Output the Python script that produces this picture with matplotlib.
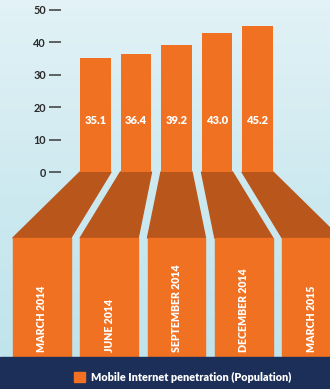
import numpy as np
import matplotlib.pyplot as plt
from matplotlib.patches import Polygon, Rectangle
from matplotlib.colors import LinearSegmentedColormap

periods = ["MARCH 2014", "JUNE 2014", "SEPTEMBER 2014", "DECEMBER 2014", "MARCH 2015"]
penetration = [35.1, 36.4, 39.2, 43.0, 45.2]
yticks = [0, 10, 20, 30, 40, 50]
legend_label = "Mobile Internet penetration (Population)"

orange = "#f07122"
dark_orange = "#b9561b"
navy = "#1b2f58"

plt.rcParams['font.family'] = ['Lato', 'DejaVu Sans']

fig = plt.figure(figsize=(3.3, 3.89), dpi=100)

# light blue background
bg = fig.add_axes([0, 0, 1, 1], zorder=-1)
grad = np.linspace(0, 1, 256).reshape(-1, 1)
cm = LinearSegmentedColormap.from_list("bg", ["#e2f2f6", "#cde9f0", "#bde3ec"])
bg.imshow(grad, aspect="auto", cmap=cm, extent=[0, 1, 0, 1])
bg.set_axis_off()

ax = fig.add_axes([61 / 330, 0, 1 - 61 / 330, 1])
ax.patch.set_alpha(0)
x = np.arange(len(periods))
ax.set_xlim((61 - 95.5) / 40.5, (330 - 95.5) / 40.5)
ax.set_ylim(-217 / 3.24, 172 / 3.24)

ax.bar(x, penetration, width=0.765, color=orange, zorder=3)
for xi, v in zip(x, penetration):
    ax.text(xi, 16, f"{v:.1f}", color="white", fontsize=8, fontweight="heavy",
            ha="center", va="center", zorder=4)

# perspective "floor" and the boxes below
spread = 1.664
top_y, floor_y, box_bot = 0, -20.4, -57.1
for xi, lab in zip(x, periods):
    bc = 2 + (xi - 2) * spread
    trap = Polygon([(xi - 0.383, top_y), (xi + 0.383, top_y),
                    (bc + 0.716, floor_y), (bc - 0.716, floor_y)],
                   closed=True, color=dark_orange, clip_on=False, zorder=2)
    ax.add_patch(trap)
    ax.add_patch(Rectangle((bc - 0.716, box_bot), 1.432, floor_y - box_bot,
                           color=orange, clip_on=False, zorder=2))
    ax.text(bc, -55.6, lab, rotation=90, color="white", fontsize=7.6,
            fontweight="heavy", ha="center", va="bottom", clip_on=False, zorder=4)

ax.set_yticks(yticks)
ax.set_xticks([])
for s in ax.spines.values():
    s.set_visible(False)
ax.tick_params(axis="y", length=8.6, width=1.1, color="#3a3a3a", pad=2.2,
               labelsize=7.8, labelcolor="#2a2a2a")
for t in ax.get_yticklabels():
    t.set_fontweight("bold")

fig.patches.append(Rectangle((0, 0), 1, 32 / 389, transform=fig.transFigure,
                             color=navy, zorder=5))
handle = Rectangle((0, 0), 1, 1, color=orange)
fig.legend([handle], [legend_label], loc="center left",
           bbox_to_anchor=(64 / 330, 12 / 389), frameon=False,
           labelcolor="white", handlelength=1.0, handleheight=1.0,
           handletextpad=0.6, prop={"weight": "heavy", "size": 7.8})

fig.savefig("out.png", dpi=100)
